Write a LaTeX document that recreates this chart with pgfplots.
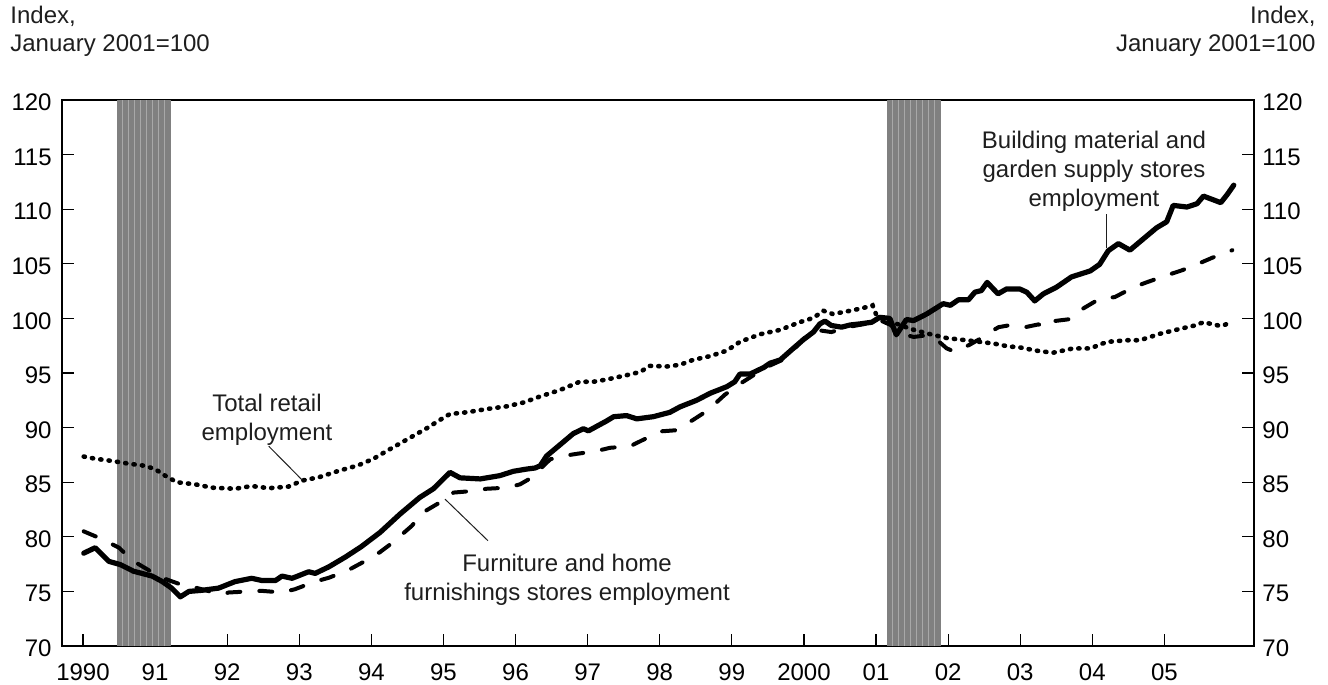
\documentclass[border=0pt]{standalone}
\usepackage{fontspec}
\setmainfont{Liberation Sans}
\usepackage{pgfplots}
\pgfplotsset{compat=1.18}
\definecolor{recgray}{RGB}{128,128,128}
\definecolor{recline}{RGB}{168,168,168}
\definecolor{txt}{RGB}{30,30,30}
\pgfplotsset{
  base/.style={
    width=596bp, height=273bp, scale only axis,
    xmin=1989.709, xmax=2006.241, ymin=70, ymax=120,
    ytick={70,75,...,120},
    xtick={1990,...,2005},
    /pgf/number format/assume math mode=true,
    tick label style={font=\fontsize{12bp}{14bp}\selectfont, text=black},
  },
}
\tikzset{lbl/.style={font=\fontsize{12bp}{14.5bp}\selectfont, align=center, inner sep=0pt, text=txt}}

\begin{document}
\begin{tikzpicture}
\path[use as bounding box] (-31bp,-19.5bp) rectangle (633bp,323bp);
\begin{axis}[base,
  axis line style={line width=1bp},
  xtick pos=bottom, ytick pos=both, tick align=inside,
  major tick length=6bp, tick style={line width=0.6bp, black},
  xticklabels={1990,91,92,93,94,95,96,97,98,99,2000,01,02,03,04,05},
  xticklabel style={inner sep=0pt, anchor=north, yshift=-8.5bp},
  yticklabel style={inner sep=0pt, anchor=east, xshift=-5bp, yshift=-1.2bp},
]
% recessions
\addplot[fill=recgray, draw=none, forget plot] coordinates {(1990.466,70) (1990.466,120) (1991.215,120) (1991.215,70)} -- cycle;
\addplot[ycomb, draw=recline, line width=0.5bp, forget plot] coordinates {
  (1990.549,120) (1990.632,120) (1990.716,120) (1990.799,120)
  (1990.882,120) (1990.966,120) (1991.049,120) (1991.132,120)};
\addplot[fill=recgray, draw=none, forget plot] coordinates {(2001.150,70) (2001.150,120) (2001.905,120) (2001.905,70)} -- cycle;
\addplot[ycomb, draw=recline, line width=0.5bp, forget plot] coordinates {
  (2001.233,120) (2001.316,120) (2001.400,120) (2001.483,120)
  (2001.566,120) (2001.650,120) (2001.733,120) (2001.816,120)};

% total retail employment
\addplot[black, line width=2.3bp, line cap=round, dash pattern=on 0.6bp off 3.6bp] coordinates {
  (1990.01,87.35) (1990.17,87.15) (1990.40,86.95) (1990.63,86.7) (1990.86,86.5)
  (1991.00,86.2) (1991.14,85.6) (1991.30,85.0) (1991.56,84.8) (1991.79,84.5)
  (1992.11,84.4) (1992.34,84.65) (1992.58,84.45) (1992.85,84.6) (1993.04,85.15)
  (1993.27,85.45) (1993.55,86.05) (1993.82,86.55) (1994.03,87.15) (1994.21,87.85)
  (1994.49,88.9) (1994.77,89.95) (1994.95,90.7) (1995.09,91.25) (1995.32,91.4)
  (1995.60,91.7) (1995.88,91.95) (1996.11,92.3) (1996.34,92.85) (1996.62,93.45)
  (1996.89,94.2) (1997.08,94.2) (1997.26,94.4) (1997.54,94.8) (1997.73,95.1)
  (1997.86,95.65) (1998.10,95.6) (1998.28,95.75) (1998.46,96.2) (1998.70,96.55)
  (1998.93,97.05) (1999.11,97.85) (1999.39,98.55) (1999.67,98.95) (1999.94,99.65)
  (2000.13,100.05) (2000.27,100.7) (2000.40,100.4) (2000.64,100.7) (2000.82,100.95)
  (2000.95,101.2) (2001.01,100.2) (2001.17,99.8) (2001.47,99.05) (2001.72,98.6)
  (2001.98,98.2) (2002.25,98.0) (2002.44,97.85) (2002.63,97.7) (2002.86,97.4)
  (2002.95,97.4) (2003.22,97.05) (2003.45,96.85) (2003.73,97.25) (2003.97,97.25)
  (2004.20,97.85) (2004.48,98.0) (2004.66,98.0) (2004.94,98.6) (2005.22,99.05)
  (2005.42,99.35) (2005.54,99.65) (2005.78,99.3) (2005.92,99.6)};

% furniture and home furnishings stores employment
\addplot[black, line width=2bp, line cap=round, dash pattern=on 6.5bp off 9.5bp] coordinates {
  (1990.01,80.5) (1990.26,79.8) (1990.50,79.0) (1990.68,77.85) (1990.91,76.95)
  (1991.00,76.5) (1991.20,76.0) (1991.37,75.6) (1991.56,75.35) (1991.93,74.7)
  (1992.02,74.9) (1992.30,75.0) (1992.48,75.05) (1992.76,74.9) (1992.94,75.2)
  (1993.22,75.9) (1993.41,76.25) (1993.68,76.95) (1993.89,77.7) (1994.12,78.6)
  (1994.30,79.5) (1994.56,81.0) (1994.72,82.25) (1994.95,83.15) (1995.14,84.05)
  (1995.41,84.2) (1995.60,84.4) (1995.88,84.5) (1996.06,84.8) (1996.27,85.6)
  (1996.34,86.2) (1996.48,87.1) (1996.66,87.4) (1996.85,87.6) (1997.12,87.85)
  (1997.31,88.15) (1997.59,88.3) (1997.79,88.95) (1998.00,89.65) (1998.21,89.75)
  (1998.46,90.7) (1998.67,91.6) (1998.90,93.0) (1999.11,94.0) (1999.30,94.8)
  (1999.50,95.6) (1999.70,96.2) (1999.85,97.1) (2000.04,98.45) (2000.22,98.9)
  (2000.38,98.75) (2000.60,99.2) (2000.85,99.5) (2001.00,100.0) (2001.20,99.4)
  (2001.35,98.6) (2001.52,98.3) (2001.70,98.45) (2001.85,98.0) (2001.98,97.25)
  (2002.09,96.95) (2002.16,97.15) (2002.30,97.6) (2002.46,98.2) (2002.58,98.75)
  (2002.70,99.2) (2002.83,99.35) (2003.07,99.2) (2003.25,99.45) (2003.36,99.2)
  (2003.46,99.75) (2003.71,99.95) (2003.87,100.9) (2004.10,101.8) (2004.31,101.95)
  (2004.57,102.85) (2004.75,103.3) (2005.01,103.9) (2005.24,104.4) (2005.45,104.95)
  (2005.66,105.55) (2005.94,106.25)};

% building material and garden supply stores employment
\addplot[black, line width=2.6bp, line join=round, line cap=round] coordinates {
  (1990.01,78.5) (1990.17,79.0) (1990.36,77.75) (1990.52,77.45) (1990.70,76.85)
  (1990.96,76.4) (1991.10,75.9) (1991.23,75.3) (1991.35,74.5) (1991.47,75.0)
  (1991.65,75.1) (1991.88,75.3) (1992.11,75.9) (1992.34,76.2) (1992.48,76.0)
  (1992.67,76.0) (1992.76,76.4) (1992.90,76.2) (1993.13,76.8) (1993.22,76.65)
  (1993.41,77.25) (1993.64,78.15) (1993.86,79.1) (1994.12,80.4) (1994.40,82.1)
  (1994.67,83.6) (1994.86,84.4) (1995.09,85.9) (1995.23,85.4) (1995.51,85.3)
  (1995.78,85.6) (1995.97,86.0) (1996.15,86.2) (1996.27,86.3) (1996.34,86.5)
  (1996.43,87.4) (1996.62,88.45) (1996.80,89.45) (1996.94,89.9) (1997.01,89.7)
  (1997.12,90.1) (1997.26,90.6) (1997.36,91.0) (1997.54,91.1) (1997.68,90.8)
  (1997.91,91.0) (1998.14,91.4) (1998.28,91.9) (1998.51,92.5) (1998.70,93.15)
  (1998.93,93.75) (1999.04,94.2) (1999.11,94.9) (1999.25,94.9) (1999.44,95.5)
  (1999.53,95.9) (1999.67,96.2) (1999.85,97.25) (1999.99,98.05) (2000.13,98.75)
  (2000.22,99.5) (2000.29,99.75) (2000.38,99.35) (2000.52,99.2) (2000.64,99.4)
  (2000.78,99.5) (2000.94,99.65) (2001.05,100.1) (2001.19,100.0) (2001.28,98.5)
  (2001.42,99.9) (2001.52,99.8) (2001.70,100.4) (2001.93,101.35) (2002.03,101.2)
  (2002.14,101.7) (2002.28,101.7) (2002.37,102.4) (2002.46,102.55) (2002.54,103.3)
  (2002.69,102.25) (2002.81,102.7) (2002.99,102.7) (2003.09,102.4) (2003.20,101.6)
  (2003.32,102.25) (2003.50,102.85) (2003.71,103.8) (2003.97,104.35) (2004.10,104.95)
  (2004.22,106.2) (2004.36,106.85) (2004.52,106.25) (2004.70,107.25) (2004.89,108.3)
  (2005.03,108.85) (2005.12,110.35) (2005.31,110.2) (2005.45,110.5) (2005.54,111.2)
  (2005.66,110.9) (2005.78,110.6) (2005.87,111.35) (2005.96,112.2)};

% annotations
\node[lbl] at (axis cs:1992.552,90.73) {Total retail\\employment};
\draw[txt, line width=0.5bp] (axis cs:1992.576,88.3) -- (axis cs:1993.04,85.2);
\node[lbl] at (axis cs:1996.713,76.09) {Furniture and home\\furnishings stores employment};
\draw[txt, line width=0.5bp] (axis cs:1995.617,79.64) -- (axis cs:1995.021,83.45);
\node[lbl] at (axis cs:2004.022,113.45) {Building material and\\garden supply stores\\employment};
\draw[txt, line width=0.5bp] (axis cs:2004.198,109.52) -- (axis cs:2004.198,106.49);
\end{axis}

\begin{axis}[base,
  hide x axis,
  axis y line*=right,
  y axis line style={draw=none},
  major tick length=0pt,
  yticklabel style={inner sep=0pt, anchor=west, xshift=4bp, yshift=-1.2bp},
]
\addplot[draw=none] coordinates {(2000,100)};
\end{axis}

\node[lbl, anchor=base west] at (-26bp,311bp) {Index,};
\node[lbl, anchor=base west] at (-26bp,297.2bp) {January 2001=100};
\node[lbl, anchor=base east] at (627bp,311bp) {Index,};
\node[lbl, anchor=base east] at (627bp,297.2bp) {January 2001=100};
\end{tikzpicture}
\end{document}
